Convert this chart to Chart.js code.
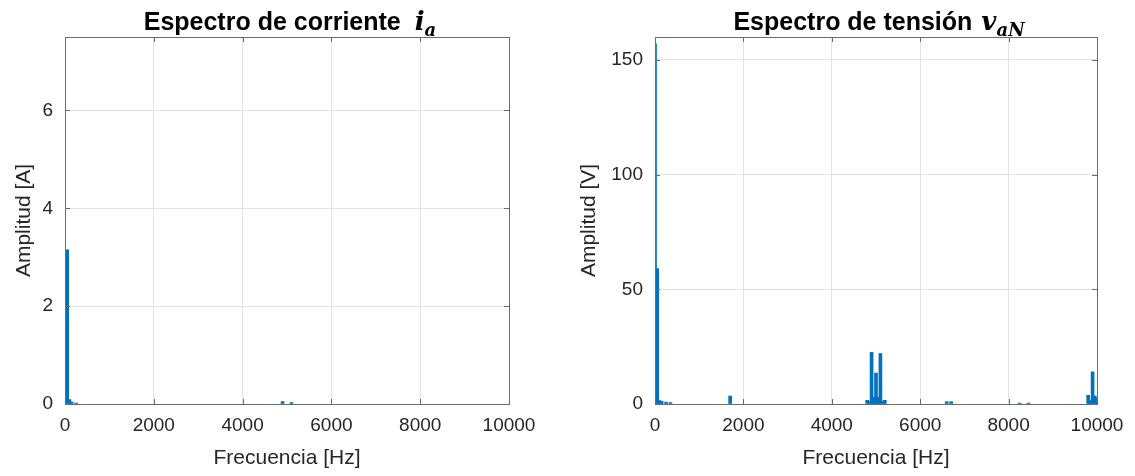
<!DOCTYPE html>
<html>
<head>
<meta charset="utf-8">
<script src="https://cdn.jsdelivr.net/npm/chart.js@4"></script>
<style>
  body { margin: 0; background: #fff; width: 1135px; height: 476px; overflow: hidden; position: relative; }
  canvas { position: absolute; top: 0; }
  #cCorriente { left: 0; }
  #cTension { left: 575px; }
</style>
</head>
<body>
<canvas id="cCorriente" width="560" height="476"></canvas>
<canvas id="cTension" width="560" height="476"></canvas>
<script>
"use strict";

/* espectro de corriente i_a */
var freqCorriente = [50, 100, 150, 250, 4900, 5100];
var ampCorriente  = [3.15, 0.09, 0.04, 0.02, 0.05, 0.03];

/* espectro de tension v_aN */
var freqTension = [0, 50, 100, 150, 250, 350, 1700,
                   4800, 4850, 4900, 4950, 5000, 5050, 5100, 5150, 5200,
                   6600, 6700, 8250, 8450,
                   9800, 9850, 9900, 9950, 10000];
var ampTension  = [157, 59, 1.5, 1.2, 0.8, 0.6, 3.5,
                   1.6, 1.2, 22.5, 3, 13.5, 3, 22, 1.2, 1.6,
                   1.0, 1.0, 0.4, 0.4,
                   3.8, 1.5, 14, 3.5, 2.5];

var xTicks = [0, 2000, 4000, 6000, 8000, 10000];
var yTicksCorriente = [0, 2, 4, 6];
var yTicksTension = [0, 50, 100, 150];

var azul = '#0072BD';
var textoColor = '#262626';
var fuente = '"Liberation Sans", Arial, sans-serif';
var fuenteMat = '"DejaVu Serif", "Liberation Serif", serif';

function pares(xs, ys) {
    var out = [];
    for (var i = 0; i < xs.length; i++) {
        out.push({ x: xs[i], y: ys[i] });
    }
    return out;
}

function fijarTicks(valores) {
    return function (s) {
        s.ticks = valores.map(function (v) { return { value: v }; });
    };
}

/* caja estilo matlab con marcas hacia dentro */
var cajaPlugin = {
    id: 'caja',
    afterDatasetsDraw: function (chart) {
        var ctx = chart.ctx;
        var a = chart.chartArea;
        var xs = chart.scales.x, ys = chart.scales.y;
        ctx.save();
        ctx.strokeStyle = '#6b6b6b';
        ctx.lineWidth = 1;
        ctx.beginPath();
        xs.ticks.forEach(function (t) {
            var px = Math.round(xs.getPixelForValue(t.value)) + 0.5;
            ctx.moveTo(px, a.bottom); ctx.lineTo(px, a.bottom - 5);
            ctx.moveTo(px, a.top); ctx.lineTo(px, a.top + 5);
        });
        ys.ticks.forEach(function (t) {
            var py = Math.round(ys.getPixelForValue(t.value)) + 0.5;
            ctx.moveTo(a.left, py); ctx.lineTo(a.left + 5, py);
            ctx.moveTo(a.right, py); ctx.lineTo(a.right - 5, py);
        });
        ctx.stroke();
        ctx.strokeRect(Math.round(a.left) + 0.5, Math.round(a.top) + 0.5,
                       Math.round(a.right - a.left), Math.round(a.bottom - a.top));
        ctx.restore();
    }
};

/* titulo con simbolo en cursiva y subindice */
var tituloPlugin = {
    id: 'tituloMat',
    afterDraw: function (chart, args, opts) {
        var ctx = chart.ctx;
        var a = chart.chartArea;
        var y = 30;
        ctx.save();
        ctx.fillStyle = '#000';
        ctx.textBaseline = 'alphabetic';
        var f1 = 'bold 25px ' + fuente;
        var f2 = 'bold italic 26px ' + fuenteMat;
        var f3 = 'bold italic 18px ' + fuenteMat;
        ctx.font = f1; var w1 = ctx.measureText(opts.texto).width;
        ctx.font = f2; var w2 = ctx.measureText(opts.simbolo).width;
        ctx.font = f3; var w3 = ctx.measureText(opts.sub).width;
        var total = w1 + opts.hueco + w2 + w3;
        var x = (a.left + a.right) / 2 + 3 - total / 2;
        ctx.font = f1; ctx.fillText(opts.texto, x, y);
        x += w1 + opts.hueco;
        ctx.font = f2; ctx.fillText(opts.simbolo, x, y);
        ctx.font = f3; ctx.fillText(opts.sub, x + w2, y + 6);
        ctx.restore();
    }
};

function crearGrafico(id, datos, yMax, yTicks, yTitulo, titulo, padIzq, padDer, yTitPad) {
    var ctx = document.getElementById(id);
    return new Chart(ctx, {
        type: 'bar',
        data: {
            datasets: [{
                data: datos,
                backgroundColor: azul,
                borderWidth: 0,
                barThickness: 3
            }]
        },
        options: {
            responsive: false,
            animation: false,
            layout: { padding: { left: 0, right: padDer, top: 37, bottom: 0 } },
            plugins: {
                legend: { display: false },
                tooltip: { enabled: false },
                tituloMat: titulo
            },
            scales: {
                x: {
                    type: 'linear',
                    min: 0,
                    max: 10000,
                    offset: false,
                    afterBuildTicks: fijarTicks(xTicks),
                    afterFit: function (s) { s.height = 72; },
                    grid: { color: '#e3e3e3', drawTicks: false, offset: false },
                    border: { display: false },
                    ticks: {
                        color: textoColor,
                        padding: 10,
                        maxRotation: 0,
                        font: { family: fuente, size: 19 },
                        callback: function (v) { return String(v); }
                    },
                    title: {
                        display: true,
                        text: 'Frecuencia [Hz]',
                        color: textoColor,
                        padding: { top: 0, bottom: 5 },
                        font: { family: fuente, size: 21 }
                    }
                },
                y: {
                    min: 0,
                    max: yMax,
                    afterBuildTicks: fijarTicks(yTicks),
                    afterFit: function (s) { s.width = padIzq; },
                    grid: { color: '#e3e3e3', drawTicks: false },
                    border: { display: false },
                    ticks: {
                        color: textoColor,
                        padding: 12,
                        font: { family: fuente, size: 19 },
                        callback: function (v) { return String(v); }
                    },
                    title: {
                        display: true,
                        text: yTitulo,
                        color: textoColor,
                        padding: { top: yTitPad, bottom: 0 },
                        font: { family: fuente, size: 21 }
                    }
                }
            }
        },
        plugins: [cajaPlugin, tituloPlugin]
    });
}

crearGrafico('cCorriente', pares(freqCorriente, ampCorriente), 7.5, yTicksCorriente, 'Amplitud [A]',
    { texto: 'Espectro de corriente', simbolo: 'i', sub: 'a', hueco: 14 }, 65, 51, 12);
crearGrafico('cTension', pares(freqTension, ampTension), 160, yTicksTension, 'Amplitud [V]',
    { texto: 'Espectro de tensión', simbolo: 'v', sub: 'aN', hueco: 9 }, 80, 38, 2);
</script>
</body>
</html>
